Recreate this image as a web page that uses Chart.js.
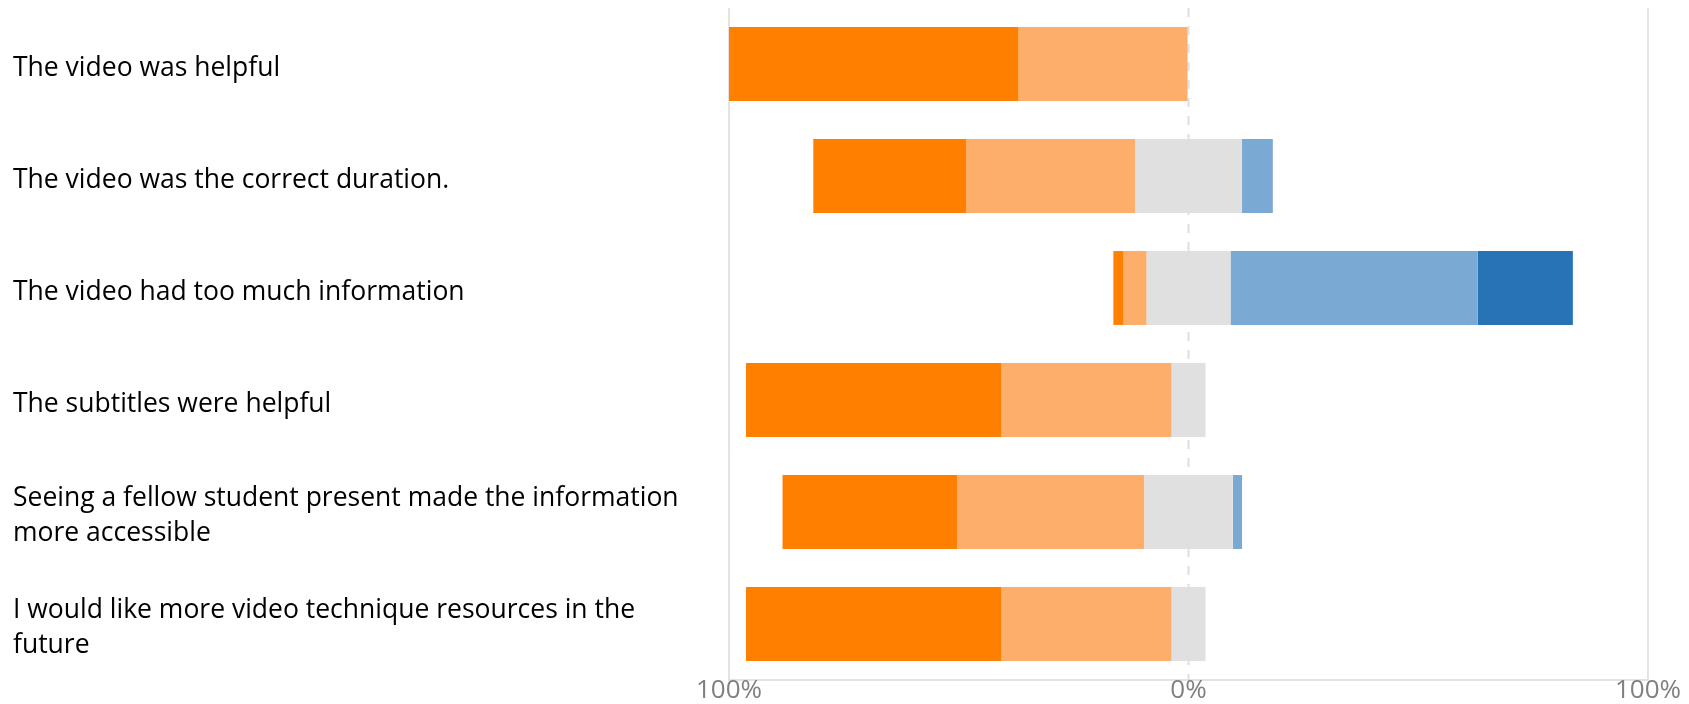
<!DOCTYPE html>
<html>
<head>
<meta charset="utf-8">
<title>Video survey responses</title>
<script src="https://cdn.jsdelivr.net/npm/chart.js@4"></script>
<style>
  html, body { margin: 0; padding: 0; background: #fff; }
  canvas { display: block; }
</style>
</head>
<body>
<canvas id="likertChart" width="1689" height="704"></canvas>
<script>
// survey statements, long ones split over two lines
const statements = [
    'The video was helpful',
    'The video was the correct duration.',
    'The video had too much information',
    'The subtitles were helpful',
    ['Seeing a fellow student present made the information', 'more accessible'],
    ['I would like more video technique resources in the', 'future']
];

// share of answers per statement, in percent
const stronglyAgree    = [63.0, 33.3,  2.2, 55.6, 38.0, 55.6];
const agree            = [37.0, 36.7,  5.0, 37.0, 40.7, 37.0];
const neutral          = [ 0.0, 23.3, 18.3,  7.4, 19.3,  7.4];
const disagree         = [ 0.0,  6.7, 53.8,  0.0,  2.0,  0.0];
const stronglyDisagree = [ 0.0,  0.0, 20.7,  0.0,  0.0,  0.0];

const xTickLabels = ['100%', '0%', '100%'];

const series = [stronglyAgree, agree, neutral, disagree, stronglyDisagree];
const seriesNames = ['Strongly agree', 'Agree', 'Neutral', 'Disagree', 'Strongly disagree'];
const seriesColors = ['#ff7f00', '#fdae6b', '#e0e0e0', '#7aa9d3', '#2773b6'];

// neutral is centred on zero, everything else stacks out from it
function floatingBars(k) {
    return statements.map((_, i) => {
        let start = -(stronglyAgree[i] + agree[i] + neutral[i] / 2);
        for (let j = 0; j < k; j++) start += series[j][i];
        const v = series[k][i];
        return v > 0 ? [start, start + v] : null;
    });
}

// dashed line at 0%, drawn under the bars
const zeroLine = {
    id: 'zeroLine',
    beforeDatasetsDraw(chart) {
        const x = chart.scales.x.getPixelForValue(0);
        const { top, bottom } = chart.chartArea;
        const ctx = chart.ctx;
        ctx.save();
        ctx.strokeStyle = '#dedede';
        ctx.lineWidth = 2;
        ctx.setLineDash([9, 9]);
        ctx.beginPath();
        ctx.moveTo(x, top);
        ctx.lineTo(x, bottom);
        ctx.stroke();
        ctx.restore();
    }
};

const ctx = document.getElementById('likertChart').getContext('2d');

const likertChart = new Chart(ctx, {
    type: 'bar',
    data: {
        labels: statements,
        datasets: series.map((_, k) => ({
            label: seriesNames[k],
            data: floatingBars(k),
            backgroundColor: seriesColors[k],
            borderWidth: 0,
            barPercentage: 0.66,
            categoryPercentage: 1,
            grouped: false
        }))
    },
    options: {
        indexAxis: 'y',
        responsive: false,
        animation: false,
        layout: {
            padding: { left: 13, right: 41, top: 8, bottom: 0 }
        },
        plugins: {
            legend: { display: false },
            tooltip: { enabled: false }
        },
        scales: {
            x: {
                min: -100,
                max: 100,
                grid: {
                    drawTicks: false,
                    lineWidth: 2,
                    color: c => (c.tick && c.tick.value === 0) ? 'rgba(0,0,0,0)' : '#e3e3e3'
                },
                border: { display: true, color: '#e3e3e3', width: 2 },
                ticks: {
                    stepSize: 100,
                    padding: 0,
                    color: '#808080',
                    font: { family: 'Open Sans', size: 26, lineHeight: 0.85 },
                    callback: (v, i) => xTickLabels[i]
                },
                afterFit: scale => { scale.height = 24; }
            },
            y: {
                grid: { display: false },
                border: { display: false },
                ticks: {
                    crossAlign: 'far',
                    labelOffset: 4,
                    color: '#000000',
                    font: { family: 'Open Sans', size: 26.5, lineHeight: 1.3 }
                },
                afterFit: scale => {
                    scale.width = 716;
                    // keep the tall two-line labels from pushing the plot down
                    scale.paddingTop = 0;
                    scale.paddingBottom = 0;
                }
            }
        }
    },
    plugins: [zeroLine]
});
</script>
</body>
</html>
